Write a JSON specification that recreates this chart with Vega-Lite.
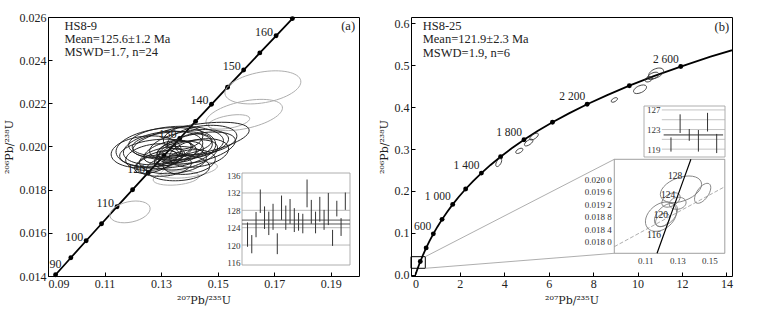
{
 "$schema": "https://vega.github.io/schema/vega-lite/v6.json",
 "padding": {"left": 2, "top": 10, "right": 5, "bottom": 3},
 "spacing": 52,
 "bounds": "flush",
 "config": {
  "font": "Liberation Serif",
  "view": {"stroke": "#000", "strokeWidth": 1},
  "axis": {"labelFont": "Liberation Serif", "titleFont": "DejaVu Serif", "labelFontSize": 12, "titleFontSize": 11, "titleFontWeight": "normal", "labelColor": "#222", "titleColor": "#222", "tickColor": "#000", "domain": false, "grid": false, "tickSize": -4, "labelPadding": 6},
  "text": {"font": "Liberation Serif", "color": "#222"}
 },
 "datasets": {
  "concA": [
   {"t":85,"x":0.087316,"y":0.013273},{"t":90,"x":0.092683,"y":0.014059},{"t":95,"x":0.098077,"y":0.014846},
   {"t":100,"x":0.103497,"y":0.015634},{"t":105,"x":0.108945,"y":0.016421},{"t":110,"x":0.114419,"y":0.01721},
   {"t":115,"x":0.11992,"y":0.017999},{"t":120,"x":0.125449,"y":0.018789},{"t":125,"x":0.131004,"y":0.01958},
   {"t":130,"x":0.136588,"y":0.020371},{"t":135,"x":0.142198,"y":0.021163},{"t":140,"x":0.147837,"y":0.021955},
   {"t":145,"x":0.153503,"y":0.022748},{"t":150,"x":0.159197,"y":0.023542},{"t":155,"x":0.164919,"y":0.024336},
   {"t":160,"x":0.17067,"y":0.025131},{"t":165,"x":0.176449,"y":0.025926},{"t":170,"x":0.182256,"y":0.026722}
  ],
  "ellAin": [
   {"x":0.1317,"y":0.01993,"w":0.0354,"r":"0.4","tilt":5},
   {"x":0.1406,"y":0.0203,"w":0.0417,"r":"0.25","tilt":10},
   {"x":0.1289,"y":0.0197,"w":0.0272,"r":"0.35","tilt":5},
   {"x":0.1307,"y":0.01993,"w":0.0283,"r":"0.4","tilt":8},
   {"x":0.1339,"y":0.02012,"w":0.0283,"r":"0.3","tilt":5},
   {"x":0.1399,"y":0.02007,"w":0.0283,"r":"0.35","tilt":10},
   {"x":0.1424,"y":0.01993,"w":0.0283,"r":"0.35","tilt":12},
   {"x":0.1342,"y":0.01937,"w":0.0237,"r":"0.4","tilt":5},
   {"x":0.136,"y":0.019,"w":0.0223,"r":"0.4","tilt":3},
   {"x":0.1434,"y":0.0197,"w":0.0212,"r":"0.45","tilt":10},
   {"x":0.1399,"y":0.01928,"w":0.0187,"r":"0.45","tilt":8},
   {"x":0.1275,"y":0.01951,"w":0.0202,"r":"0.45","tilt":8},
   {"x":0.1378,"y":0.02039,"w":0.0141,"r":"0.55","tilt":10},
   {"x":0.1416,"y":0.02007,"w":0.0131,"r":"0.6","tilt":5},
   {"x":0.1325,"y":0.01975,"w":0.0177,"r":"0.4","tilt":15},
   {"x":0.1282,"y":0.01928,"w":0.0159,"r":"0.4","tilt":20},
   {"x":0.1371,"y":0.01975,"w":0.0159,"r":"0.45","tilt":10},
   {"x":0.1346,"y":0.01984,"w":0.0124,"r":"0.45","tilt":15},
   {"x":0.131,"y":0.01914,"w":0.0195,"r":"0.4","tilt":5},
   {"x":0.1388,"y":0.01961,"w":0.023,"r":"0.4","tilt":15},
   {"x":0.1247,"y":0.01975,"w":0.0248,"r":"0.45","tilt":5},
   {"x":0.1445,"y":0.0203,"w":0.0248,"r":"0.4","tilt":8},
   {"x":0.1353,"y":0.02016,"w":0.0336,"r":"0.35","tilt":3},
   {"x":0.1332,"y":0.01951,"w":0.0106,"r":"0.5","tilt":20}
  ],
  "ellAout": [
   {"x":0.166,"y":0.02274,"w":0.0272,"r":"0.4","tilt":10},
   {"x":0.1594,"y":0.02146,"w":0.0276,"r":"0.35","tilt":12},
   {"x":0.154,"y":0.02114,"w":0.0149,"r":"0.3","tilt":10},
   {"x":0.1399,"y":0.01891,"w":0.0202,"r":"0.25","tilt":8},
   {"x":0.1353,"y":0.01854,"w":0.0163,"r":"0.3","tilt":5},
   {"x":0.119,"y":0.01697,"w":0.0145,"r":"0.5","tilt":12}
  ],
  "wmA": [
   {"i":1,"lo":119.6,"hi":125.2},{"i":2,"lo":118.1,"hi":122.3},{"i":3,"lo":121.8,"hi":127.6},{"i":4,"lo":127.4,"hi":132.8},
   {"i":5,"lo":123.7,"hi":128.9},{"i":6,"lo":122.3,"hi":127.7},{"i":7,"lo":123.5,"hi":129.5},{"i":8,"lo":117.9,"hi":122.7},
   {"i":9,"lo":125.8,"hi":131.4},{"i":10,"lo":123.5,"hi":129.1},{"i":11,"lo":124.9,"hi":130.6},{"i":12,"lo":123.0,"hi":128.5},
   {"i":13,"lo":123.3,"hi":127.4},{"i":14,"lo":122.7,"hi":127.2},{"i":15,"lo":128.7,"hi":135.1},{"i":16,"lo":124.9,"hi":130.4},
   {"i":17,"lo":122.7,"hi":127.7},{"i":18,"lo":125.4,"hi":131.1},{"i":19,"lo":123.5,"hi":128.1},{"i":20,"lo":124.6,"hi":132.0},
   {"i":21,"lo":119.8,"hi":123.5},{"i":22,"lo":126.6,"hi":130.2},{"i":23,"lo":122.1,"hi":126.2},{"i":24,"lo":128.1,"hi":132.1}
  ],
  "concB": [
   {"t":0,"x":0,"y":0,"lab":""},{"t":100,"x":0.103497,"y":0.015634,"lab":""},{"t":200,"x":0.217708,"y":0.031511,"lab":""},
   {"t":300,"x":0.343737,"y":0.047637,"lab":""},{"t":400,"x":0.482811,"y":0.064016,"lab":""},{"t":500,"x":0.63628,"y":0.08065,"lab":""},
   {"t":600,"x":0.805631,"y":0.097544,"lab":"600"},{"t":700,"x":0.99251,"y":0.114702,"lab":""},{"t":800,"x":1.19873,"y":0.132129,"lab":""},
   {"t":900,"x":1.426295,"y":0.149828,"lab":""},{"t":1000,"x":1.677409,"y":0.167804,"lab":"1 000"},{"t":1100,"x":1.954516,"y":0.186061,"lab":""},
   {"t":1200,"x":2.260301,"y":0.204603,"lab":""},{"t":1300,"x":2.597738,"y":0.223435,"lab":""},{"t":1400,"x":2.970093,"y":0.242562,"lab":"1 400"},
   {"t":1500,"x":3.380991,"y":0.261987,"lab":""},{"t":1600,"x":3.834411,"y":0.281716,"lab":""},{"t":1700,"x":4.334768,"y":0.301754,"lab":""},
   {"t":1800,"x":4.886896,"y":0.322105,"lab":"1 800"},{"t":1900,"x":5.496186,"y":0.342773,"lab":""},{"t":2000,"x":6.168521,"y":0.363766,"lab":""},
   {"t":2100,"x":6.910454,"y":0.385086,"lab":""},{"t":2200,"x":7.729165,"y":0.40674,"lab":"2 200"},{"t":2300,"x":8.632616,"y":0.428732,"lab":""},
   {"t":2400,"x":9.629571,"y":0.451068,"lab":""},{"t":2500,"x":10.729711,"y":0.473754,"lab":""},{"t":2600,"x":11.943714,"y":0.496793,"lab":"2 600"},
   {"t":2700,"x":13.283349,"y":0.520193,"lab":""},{"t":2800,"x":14.761649,"y":0.543959,"lab":""}
  ],
  "ellB": [
   {"x":3.749,"y":0.2677,"w":0.405,"r":"0.5","tilt":60},
   {"x":4.676,"y":0.2956,"w":0.36,"r":"0.5","tilt":30},
   {"x":5.10,"y":0.3154,"w":0.45,"r":"0.45","tilt":35},
   {"x":5.34,"y":0.3297,"w":0.45,"r":"0.45","tilt":35},
   {"x":8.954,"y":0.4171,"w":0.315,"r":"0.5","tilt":30},
   {"x":10.11,"y":0.4426,"w":0.63,"r":"0.5","tilt":25},
   {"x":10.5,"y":0.4665,"w":0.36,"r":"0.6","tilt":25},
   {"x":10.83,"y":0.4808,"w":0.72,"r":"0.55","tilt":25},
   {"x":10.7,"y":0.4745,"w":0.54,"r":"0.5","tilt":25}
  ],
  "wmB": [
   {"i":1,"lo":118.5,"hi":121.4},{"i":2,"lo":122.3,"hi":126.1},{"i":3,"lo":120.7,"hi":123.1},
   {"i":4,"lo":118.5,"hi":122.9},{"i":5,"lo":122.6,"hi":126.4},{"i":6,"lo":118.2,"hi":122.1}
  ],
  "concZ": [
   {"t":112.65,"x":0.117331,"y":0.017628},{"t":116,"x":0.121024,"y":0.018157},{"t":120,"x":0.125449,"y":0.018789},
   {"t":124,"x":0.129891,"y":0.019422},{"t":128,"x":0.134351,"y":0.020054},{"t":131.71,"x":0.138504,"y":0.020641}
  ],
  "ellZ": [
   {"x":0.13229,"y":0.019679,"w":0.0269,"r":"0.55","tilt":20},
   {"x":0.14585,"y":0.019551,"w":0.0144,"r":"0.5","tilt":55},
   {"x":0.11979,"y":0.018801,"w":0.0219,"r":"0.7","tilt":40},
   {"x":0.12291,"y":0.018856,"w":0.0175,"r":"0.6","tilt":45},
   {"x":0.12085,"y":0.018696,"w":0.01,"r":"0.7","tilt":40},
   {"x":0.13023,"y":0.019231,"w":0.0106,"r":"0.7","tilt":10},
   {"x":0.12604,"y":0.019337,"w":0.0125,"r":"0.6","tilt":30}
  ]
 },
 "hconcat": [
  {
   "width": 311, "height": 259,
   "resolve": {"scale": {"x": "independent", "y": "independent", "size": "independent"}, "axis": {"x": "independent", "y": "independent"}},
   "layer": [
    {"layer": [
     {"data": {"name": "concA"}, "mark": {"type": "line", "clip": true, "color": "#000", "strokeWidth": 1.8},
      "encoding": {
       "x": {"field": "x", "type": "quantitative", "scale": {"domain": [0.09, 0.2], "nice": false, "zero": false},
             "axis": {"orient": "bottom", "values": [0.09, 0.11, 0.13, 0.15, 0.17, 0.19], "format": ".2f", "title": "²⁰⁷Pb/²³⁵U", "titlePadding": 5}},
       "y": {"field": "y", "type": "quantitative", "scale": {"domain": [0.014, 0.026], "nice": false, "zero": false},
             "axis": {"orient": "left", "values": [0.014, 0.016, 0.018, 0.02, 0.022, 0.024, 0.026], "format": ".3f", "title": "²⁰⁶Pb/²³⁸U", "titlePadding": 5}}
      }},
     {"data": {"name": "concA"}, "transform": [{"filter": "datum.t >= 90 && datum.t <= 165"}],
      "mark": {"type": "point", "filled": true, "color": "#000", "size": 24, "opacity": 1},
      "encoding": {"x": {"field": "x", "type": "quantitative"}, "y": {"field": "y", "type": "quantitative"}}},
     {"data": {"name": "concA"}, "transform": [{"filter": "datum.t >= 100 && datum.t <= 160 && datum.t % 10 == 0"}],
      "mark": {"type": "text", "align": "right", "baseline": "middle", "dx": -3, "dy": -4, "fontSize": 12},
      "encoding": {"x": {"field": "x", "type": "quantitative"}, "y": {"field": "y", "type": "quantitative"}, "text": {"field": "t", "type": "quantitative"}}},
     {"data": {"name": "concA"}, "transform": [{"filter": "datum.t == 90"}],
      "mark": {"type": "text", "align": "center", "baseline": "bottom", "dy": -4, "fontSize": 12},
      "encoding": {"x": {"field": "x", "type": "quantitative"}, "y": {"field": "y", "type": "quantitative"}, "text": {"field": "t", "type": "quantitative"}}},
     {"data": {"name": "ellAout"}, "mark": {"type": "point", "filled": false, "color": "#ababab", "strokeWidth": 0.9, "opacity": 1},
      "encoding": {
       "x": {"field": "x", "type": "quantitative"}, "y": {"field": "y", "type": "quantitative"},
       "size": {"field": "w", "type": "quantitative", "scale": {"type": "pow", "exponent": 2, "domain": [0, 0.05], "range": [0, 19980]}, "legend": null},
       "shape": {"field": "r", "type": "nominal", "legend": null, "scale": {"domain": ["0.25","0.3","0.35","0.4","0.45","0.5","0.55","0.6","0.7"], "range": [
        "M-1,0C-1,-0.138,-0.552,-0.25,0,-0.25C0.552,-0.25,1,-0.138,1,0C1,0.138,0.552,0.25,0,0.25C-0.552,0.25,-1,0.138,-1,0Z",
        "M-1,0C-1,-0.166,-0.552,-0.3,0,-0.3C0.552,-0.3,1,-0.166,1,0C1,0.166,0.552,0.3,0,0.3C-0.552,0.3,-1,0.166,-1,0Z",
        "M-1,0C-1,-0.193,-0.552,-0.35,0,-0.35C0.552,-0.35,1,-0.193,1,0C1,0.193,0.552,0.35,0,0.35C-0.552,0.35,-1,0.193,-1,0Z",
        "M-1,0C-1,-0.221,-0.552,-0.4,0,-0.4C0.552,-0.4,1,-0.221,1,0C1,0.221,0.552,0.4,0,0.4C-0.552,0.4,-1,0.221,-1,0Z",
        "M-1,0C-1,-0.249,-0.552,-0.45,0,-0.45C0.552,-0.45,1,-0.249,1,0C1,0.249,0.552,0.45,0,0.45C-0.552,0.45,-1,0.249,-1,0Z",
        "M-1,0C-1,-0.276,-0.552,-0.5,0,-0.5C0.552,-0.5,1,-0.276,1,0C1,0.276,0.552,0.5,0,0.5C-0.552,0.5,-1,0.276,-1,0Z",
        "M-1,0C-1,-0.304,-0.552,-0.55,0,-0.55C0.552,-0.55,1,-0.304,1,0C1,0.304,0.552,0.55,0,0.55C-0.552,0.55,-1,0.304,-1,0Z",
        "M-1,0C-1,-0.331,-0.552,-0.6,0,-0.6C0.552,-0.6,1,-0.331,1,0C1,0.331,0.552,0.6,0,0.6C-0.552,0.6,-1,0.331,-1,0Z",
        "M-1,0C-1,-0.387,-0.552,-0.7,0,-0.7C0.552,-0.7,1,-0.387,1,0C1,0.387,0.552,0.7,0,0.7C-0.552,0.7,-1,0.387,-1,0Z"]}},
       "angle": {"field": "tilt", "type": "quantitative", "scale": {"domain": [0, 90], "range": [360, 270]}}
      }},
     {"data": {"name": "ellAin"}, "mark": {"type": "point", "filled": false, "color": "#1a1a1a", "strokeWidth": 0.9, "opacity": 1},
      "encoding": {
       "x": {"field": "x", "type": "quantitative"}, "y": {"field": "y", "type": "quantitative"},
       "size": {"field": "w", "type": "quantitative", "scale": {"type": "pow", "exponent": 2, "domain": [0, 0.05], "range": [0, 19980]}, "legend": null},
       "shape": {"field": "r", "type": "nominal", "legend": null},
       "angle": {"field": "tilt", "type": "quantitative", "scale": {"domain": [0, 90], "range": [360, 270]}}
      }},
     {"data": {"values": [{}]}, "mark": {"type": "text", "align": "left", "baseline": "top", "fontSize": 12.5, "lineHeight": 13, "text": ["HS8-9", "Mean=125.6±1.2 Ma", "MSWD=1.7, n=24"]},
      "encoding": {"x": {"datum": 0.0958, "type": "quantitative"}, "y": {"datum": 0.02586, "type": "quantitative"}}},
     {"data": {"values": [{}]}, "mark": {"type": "text", "align": "right", "baseline": "middle", "fontSize": 12.5, "text": "(a)"},
      "encoding": {"x": {"datum": 0.1986, "type": "quantitative"}, "y": {"datum": 0.02558, "type": "quantitative"}}}
    ]},
    {"layer": [
     {"data": {"values": [{}]}, "mark": {"type": "rect", "fill": "#fff", "stroke": "#999", "strokeWidth": 0.8},
      "encoding": {
       "x": {"datum": -0.3, "type": "quantitative", "scale": {"domain": [-0.3, 25.1], "range": [194, 302], "nice": false, "zero": false}, "axis": null},
       "x2": {"datum": 25.1},
       "y": {"datum": 115.4, "type": "quantitative", "scale": {"domain": [115.4, 136.6], "range": [248, 156], "nice": false, "zero": false},
             "axis": {"orient": "left", "offset": -194, "values": [116, 120, 124, 128, 132, 136], "ticks": false, "title": null, "labelFontSize": 9, "labelPadding": 2, "labelColor": "#333", "zindex": 1}},
       "y2": {"datum": 136.6}
      }},
     {"data": {"values": [{"v": 120}, {"v": 124}, {"v": 128}, {"v": 132}]}, "mark": {"type": "rule", "color": "#9a9a9a", "strokeWidth": 0.7},
      "encoding": {
       "x": {"datum": -0.3, "type": "quantitative", "axis": null}, "x2": {"datum": 25.1},
       "y": {"field": "v", "type": "quantitative", "axis": {"orient": "left", "offset": -194, "values": [116, 120, 124, 128, 132, 136], "ticks": false, "title": null, "labelFontSize": 9, "labelPadding": 2, "labelColor": "#333", "zindex": 1}}
      }},
     {"data": {"values": [{"v": 125.75}, {"v": 124.85}]}, "mark": {"type": "rule", "color": "#444", "strokeWidth": 0.9},
      "encoding": {
       "x": {"datum": -0.3, "type": "quantitative", "axis": null}, "x2": {"datum": 25.1},
       "y": {"field": "v", "type": "quantitative", "axis": {"orient": "left", "offset": -194, "values": [116, 120, 124, 128, 132, 136], "ticks": false, "title": null, "labelFontSize": 9, "labelPadding": 2, "labelColor": "#333", "zindex": 1}}
      }},
     {"data": {"name": "wmA"}, "mark": {"type": "rule", "color": "#333", "strokeWidth": 1},
      "encoding": {
       "x": {"field": "i", "type": "quantitative", "axis": null},
       "y": {"field": "lo", "type": "quantitative", "axis": {"orient": "left", "offset": -194, "values": [116, 120, 124, 128, 132, 136], "ticks": false, "title": null, "labelFontSize": 9, "labelPadding": 2, "labelColor": "#333", "zindex": 1}},
       "y2": {"field": "hi"}
      }}
    ]}
   ]
  },
  {
   "width": 321, "height": 259,
   "resolve": {"scale": {"x": "independent", "y": "independent", "size": "independent"}, "axis": {"x": "independent", "y": "independent"}},
   "layer": [
    {"layer": [
     {"data": {"name": "concB"}, "mark": {"type": "line", "clip": true, "color": "#000", "strokeWidth": 1.8},
      "encoding": {
       "x": {"field": "x", "type": "quantitative", "scale": {"domain": [-0.2, 14.25], "nice": false, "zero": false},
             "axis": {"orient": "bottom", "values": [0, 2, 4, 6, 8, 10, 12, 14], "format": "d", "title": "²⁰⁷Pb/²³⁵U", "titlePadding": 5}},
       "y": {"field": "y", "type": "quantitative", "scale": {"domain": [-0.003, 0.615], "nice": false, "zero": false},
             "axis": {"orient": "left", "values": [0, 0.1, 0.2, 0.3, 0.4, 0.5, 0.6], "format": ".1f", "title": "²⁰⁶Pb/²³⁸U", "titlePadding": 5}}
      }},
     {"data": {"name": "concB"}, "transform": [{"filter": "datum.t >= 200 && datum.t <= 2600 && datum.t % 200 == 0"}],
      "mark": {"type": "point", "filled": true, "color": "#000", "size": 24, "opacity": 1},
      "encoding": {"x": {"field": "x", "type": "quantitative"}, "y": {"field": "y", "type": "quantitative"}}},
     {"data": {"name": "concB"}, "transform": [{"filter": "datum.lab != ''"}],
      "mark": {"type": "text", "align": "right", "baseline": "bottom", "dx": -2, "dy": -2, "fontSize": 11.5},
      "encoding": {"x": {"field": "x", "type": "quantitative"}, "y": {"field": "y", "type": "quantitative"}, "text": {"field": "lab", "type": "nominal"}}},
     {"data": {"name": "ellB"}, "mark": {"type": "point", "filled": false, "color": "#333", "strokeWidth": 0.8, "opacity": 1},
      "encoding": {
       "x": {"field": "x", "type": "quantitative"}, "y": {"field": "y", "type": "quantitative"},
       "size": {"field": "w", "type": "quantitative", "scale": {"type": "pow", "exponent": 2, "domain": [0, 1], "range": [0, 493.3]}, "legend": null},
       "shape": {"field": "r", "type": "nominal", "legend": null, "scale": {"domain": ["0.25","0.3","0.35","0.4","0.45","0.5","0.55","0.6","0.7"], "range": [
        "M-1,0C-1,-0.138,-0.552,-0.25,0,-0.25C0.552,-0.25,1,-0.138,1,0C1,0.138,0.552,0.25,0,0.25C-0.552,0.25,-1,0.138,-1,0Z",
        "M-1,0C-1,-0.166,-0.552,-0.3,0,-0.3C0.552,-0.3,1,-0.166,1,0C1,0.166,0.552,0.3,0,0.3C-0.552,0.3,-1,0.166,-1,0Z",
        "M-1,0C-1,-0.193,-0.552,-0.35,0,-0.35C0.552,-0.35,1,-0.193,1,0C1,0.193,0.552,0.35,0,0.35C-0.552,0.35,-1,0.193,-1,0Z",
        "M-1,0C-1,-0.221,-0.552,-0.4,0,-0.4C0.552,-0.4,1,-0.221,1,0C1,0.221,0.552,0.4,0,0.4C-0.552,0.4,-1,0.221,-1,0Z",
        "M-1,0C-1,-0.249,-0.552,-0.45,0,-0.45C0.552,-0.45,1,-0.249,1,0C1,0.249,0.552,0.45,0,0.45C-0.552,0.45,-1,0.249,-1,0Z",
        "M-1,0C-1,-0.276,-0.552,-0.5,0,-0.5C0.552,-0.5,1,-0.276,1,0C1,0.276,0.552,0.5,0,0.5C-0.552,0.5,-1,0.276,-1,0Z",
        "M-1,0C-1,-0.304,-0.552,-0.55,0,-0.55C0.552,-0.55,1,-0.304,1,0C1,0.304,0.552,0.55,0,0.55C-0.552,0.55,-1,0.304,-1,0Z",
        "M-1,0C-1,-0.331,-0.552,-0.6,0,-0.6C0.552,-0.6,1,-0.331,1,0C1,0.331,0.552,0.6,0,0.6C-0.552,0.6,-1,0.331,-1,0Z",
        "M-1,0C-1,-0.387,-0.552,-0.7,0,-0.7C0.552,-0.7,1,-0.387,1,0C1,0.387,0.552,0.7,0,0.7C-0.552,0.7,-1,0.387,-1,0Z"]}},
       "angle": {"field": "tilt", "type": "quantitative", "scale": {"domain": [0, 90], "range": [360, 270]}}
      }},
     {"data": {"values": [{}]}, "mark": {"type": "rect", "fill": null, "fillOpacity": 0, "stroke": "#000", "strokeWidth": 1},
      "encoding": {"x": {"datum": -0.2, "type": "quantitative"}, "x2": {"datum": 0.444}, "y": {"datum": 0.0154, "type": "quantitative"}, "y2": {"datum": 0.0431}}},
     {"data": {"values": [{}]}, "mark": {"type": "rule", "color": "#999", "strokeWidth": 0.8},
      "encoding": {"x": {"datum": 0.444, "type": "quantitative"}, "y": {"datum": 0.0431, "type": "quantitative"}, "x2": {"datum": 8.953}, "y2": {"datum": 0.2755}}},
     {"data": {"values": [{}]}, "mark": {"type": "rule", "color": "#999", "strokeWidth": 0.8},
      "encoding": {"x": {"datum": 0.444, "type": "quantitative"}, "y": {"datum": 0.0154, "type": "quantitative"}, "x2": {"datum": 8.953}, "y2": {"datum": 0.0512}}},
     {"data": {"values": [{}]}, "mark": {"type": "text", "align": "left", "baseline": "top", "fontSize": 12.5, "lineHeight": 13.3, "text": ["HS8-25", "Mean=121.9±2.3 Ma", "MSWD=1.9, n=6"]},
      "encoding": {"x": {"datum": 0.327, "type": "quantitative"}, "y": {"datum": 0.6078, "type": "quantitative"}}},
     {"data": {"values": [{}]}, "mark": {"type": "text", "align": "right", "baseline": "middle", "fontSize": 12.5, "text": "(b)"},
      "encoding": {"x": {"datum": 14.12, "type": "quantitative"}, "y": {"datum": 0.5919, "type": "quantitative"}}}
    ]},
    {"layer": [
     {"data": {"values": [{}]}, "mark": {"type": "rect", "fill": "#fff", "stroke": "#999", "strokeWidth": 0.8},
      "encoding": {
       "x": {"datum": -1.95, "type": "quantitative", "scale": {"domain": [-1.95, 6.91], "range": [233, 314], "nice": false, "zero": false}, "axis": null},
       "x2": {"datum": 6.91},
       "y": {"datum": 117.4, "type": "quantitative", "scale": {"domain": [117.4, 127.8], "range": [140, 89], "nice": false, "zero": false},
             "axis": {"orient": "left", "offset": -251, "values": [119, 123, 127], "ticks": false, "title": null, "labelFontSize": 9, "labelPadding": 2, "labelColor": "#333", "zindex": 1}},
       "y2": {"datum": 127.8}
      }},
     {"data": {"values": [{"v": 119}, {"v": 121}, {"v": 123}, {"v": 125}, {"v": 127}]}, "mark": {"type": "rule", "color": "#aaa", "strokeWidth": 0.7},
      "encoding": {
       "x": {"datum": 0, "type": "quantitative", "axis": null}, "x2": {"datum": 6.91},
       "y": {"field": "v", "type": "quantitative", "axis": {"orient": "left", "offset": -251, "values": [119, 123, 127], "ticks": false, "title": null, "labelFontSize": 9, "labelPadding": 2, "labelColor": "#333", "zindex": 1}}
      }},
     {"data": {"values": [{"v": 121.9}]}, "mark": {"type": "rule", "color": "#333", "strokeWidth": 1},
      "encoding": {
       "x": {"datum": 0.2, "type": "quantitative", "axis": null}, "x2": {"datum": 6.7},
       "y": {"field": "v", "type": "quantitative", "axis": {"orient": "left", "offset": -251, "values": [119, 123, 127], "ticks": false, "title": null, "labelFontSize": 9, "labelPadding": 2, "labelColor": "#333", "zindex": 1}}
      }},
     {"data": {"name": "wmB"}, "mark": {"type": "rule", "color": "#333", "strokeWidth": 1},
      "encoding": {
       "x": {"field": "i", "type": "quantitative", "axis": null},
       "y": {"field": "lo", "type": "quantitative", "axis": {"orient": "left", "offset": -251, "values": [119, 123, 127], "ticks": false, "title": null, "labelFontSize": 9, "labelPadding": 2, "labelColor": "#333", "zindex": 1}},
       "y2": {"field": "hi"}
      }}
    ]},
    {"layer": [
     {"data": {"values": [{}]}, "mark": {"type": "rect", "fill": "#fff", "stroke": "#888", "strokeWidth": 0.8},
      "encoding": {
       "x": {"datum": 0.0906, "type": "quantitative", "scale": {"domain": [0.0906, 0.1597], "range": [203.3, 313.8], "nice": false, "zero": false},
             "axis": {"orient": "bottom", "offset": -22.7, "values": [0.11, 0.13, 0.15], "format": ".2f", "ticks": false, "title": null, "labelFontSize": 9, "labelPadding": 3, "labelColor": "#333", "labelFlush": false, "zindex": 1}},
       "x2": {"datum": 0.1597},
       "y": {"datum": 0.017628, "type": "quantitative", "scale": {"domain": [0.017628, 0.020641], "range": [236.3, 142.3], "nice": false, "zero": false},
             "axis": {"orient": "left", "offset": -203.3, "values": [0.018, 0.0184, 0.0188, 0.0192, 0.0196, 0.02], "labelExpr": "slice(format(datum.value, '.4f'), 0, 5) + ' ' + slice(format(datum.value, '.4f'), 5)", "ticks": false, "title": null, "labelFontSize": 9, "labelPadding": 3, "labelColor": "#333", "zindex": 1}},
       "y2": {"datum": 0.020641}
      }},
     {"data": {"values": [{}]}, "mark": {"type": "rule", "color": "#999", "strokeWidth": 0.8, "strokeDash": [4, 2]},
      "encoding": {
       "x": {"datum": 0.0906, "type": "quantitative", "axis": {"orient": "bottom", "offset": -22.7, "values": [0.11, 0.13, 0.15], "format": ".2f", "ticks": false, "title": null, "labelFontSize": 9, "labelPadding": 3, "labelColor": "#333", "labelFlush": false, "zindex": 1}},
       "y": {"datum": 0.01784, "type": "quantitative", "axis": {"orient": "left", "offset": -203.3, "values": [0.018, 0.0184, 0.0188, 0.0192, 0.0196, 0.02], "labelExpr": "slice(format(datum.value, '.4f'), 0, 5) + ' ' + slice(format(datum.value, '.4f'), 5)", "ticks": false, "title": null, "labelFontSize": 9, "labelPadding": 3, "labelColor": "#333", "zindex": 1}},
       "x2": {"datum": 0.1597}, "y2": {"datum": 0.019763}
      }},
     {"data": {"name": "ellZ"}, "mark": {"type": "point", "filled": false, "color": "#777", "strokeWidth": 0.8, "opacity": 1},
      "encoding": {
       "x": {"field": "x", "type": "quantitative", "axis": {"orient": "bottom", "offset": -22.7, "values": [0.11, 0.13, 0.15], "format": ".2f", "ticks": false, "title": null, "labelFontSize": 9, "labelPadding": 3, "labelColor": "#333", "labelFlush": false, "zindex": 1}},
       "y": {"field": "y", "type": "quantitative", "axis": {"orient": "left", "offset": -203.3, "values": [0.018, 0.0184, 0.0188, 0.0192, 0.0196, 0.02], "labelExpr": "slice(format(datum.value, '.4f'), 0, 5) + ' ' + slice(format(datum.value, '.4f'), 5)", "ticks": false, "title": null, "labelFontSize": 9, "labelPadding": 3, "labelColor": "#333", "zindex": 1}},
       "size": {"field": "w", "type": "quantitative", "scale": {"type": "pow", "exponent": 2, "domain": [0, 0.05], "range": [0, 6400]}, "legend": null},
       "shape": {"field": "r", "type": "nominal", "legend": null},
       "angle": {"field": "tilt", "type": "quantitative", "scale": {"domain": [0, 90], "range": [360, 270]}}
      }},
     {"data": {"name": "concZ"}, "mark": {"type": "line", "color": "#000", "strokeWidth": 1.2},
      "encoding": {
       "x": {"field": "x", "type": "quantitative", "axis": {"orient": "bottom", "offset": -22.7, "values": [0.11, 0.13, 0.15], "format": ".2f", "ticks": false, "title": null, "labelFontSize": 9, "labelPadding": 3, "labelColor": "#333", "labelFlush": false, "zindex": 1}},
       "y": {"field": "y", "type": "quantitative", "axis": {"orient": "left", "offset": -203.3, "values": [0.018, 0.0184, 0.0188, 0.0192, 0.0196, 0.02], "labelExpr": "slice(format(datum.value, '.4f'), 0, 5) + ' ' + slice(format(datum.value, '.4f'), 5)", "ticks": false, "title": null, "labelFontSize": 9, "labelPadding": 3, "labelColor": "#333", "zindex": 1}}
      }},
     {"data": {"name": "concZ"}, "transform": [{"filter": "datum.t >= 116 && datum.t <= 128"}],
      "mark": {"type": "text", "align": "right", "baseline": "middle", "dx": -2, "dy": -2, "fontSize": 9.5},
      "encoding": {
       "x": {"field": "x", "type": "quantitative", "axis": {"orient": "bottom", "offset": -22.7, "values": [0.11, 0.13, 0.15], "format": ".2f", "ticks": false, "title": null, "labelFontSize": 9, "labelPadding": 3, "labelColor": "#333", "labelFlush": false, "zindex": 1}},
       "y": {"field": "y", "type": "quantitative", "axis": {"orient": "left", "offset": -203.3, "values": [0.018, 0.0184, 0.0188, 0.0192, 0.0196, 0.02], "labelExpr": "slice(format(datum.value, '.4f'), 0, 5) + ' ' + slice(format(datum.value, '.4f'), 5)", "ticks": false, "title": null, "labelFontSize": 9, "labelPadding": 3, "labelColor": "#333", "zindex": 1}},
       "text": {"field": "t", "type": "quantitative"}
      }}
    ]}
   ]
  }
 ]
}
